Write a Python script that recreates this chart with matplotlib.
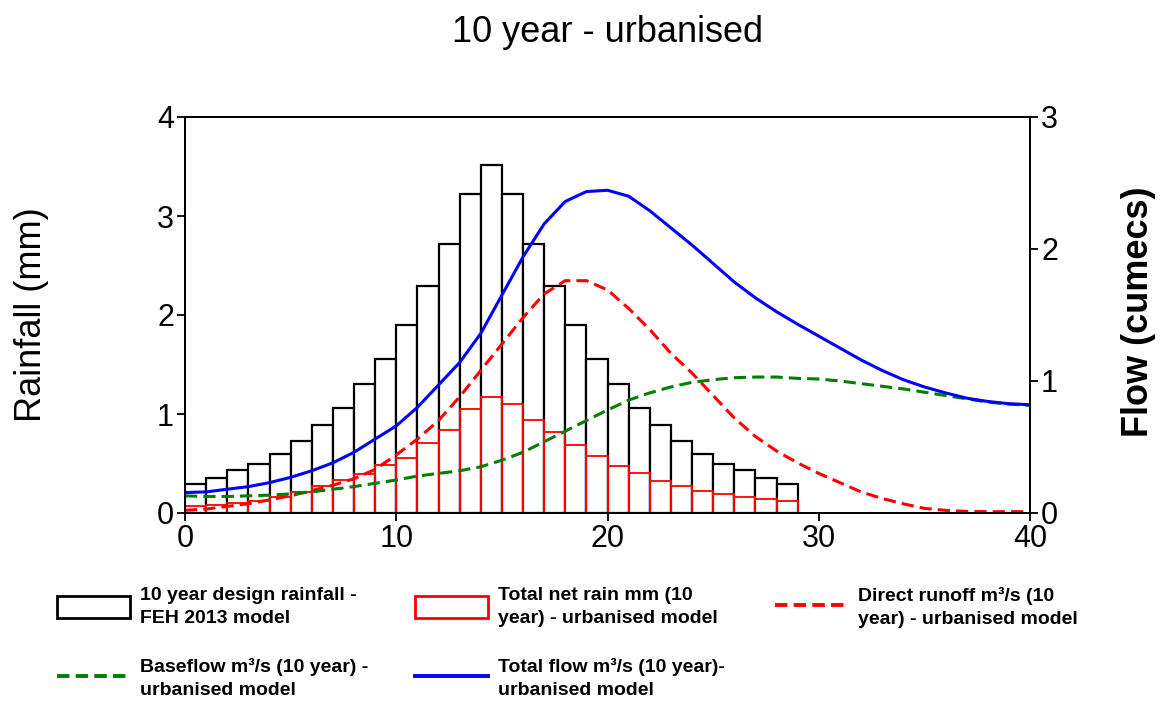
import numpy as np
import matplotlib
matplotlib.use('Agg')
import matplotlib.pyplot as plt
from matplotlib.patches import Patch
from matplotlib.lines import Line2D

plt.rcParams['font.family'] = ['Liberation Sans', 'DejaVu Sans']

# rainfall bars (mm), one per hour starting at 0
rain_hours = np.arange(29)
design_rain = [0.29, 0.35, 0.43, 0.50, 0.60, 0.73, 0.89, 1.06, 1.30, 1.56,
               1.90, 2.29, 2.72, 3.22, 3.52, 3.22, 2.72, 2.29, 1.90, 1.56,
               1.30, 1.06, 0.89, 0.73, 0.60, 0.49, 0.43, 0.35, 0.29]
net_rain = [0.07, 0.08, 0.10, 0.12, 0.16, 0.21, 0.27, 0.33, 0.39, 0.48,
            0.56, 0.71, 0.84, 1.05, 1.17, 1.10, 0.94, 0.82, 0.69, 0.58,
            0.47, 0.40, 0.32, 0.27, 0.22, 0.19, 0.16, 0.14, 0.12]

# flows (cumecs) on the right axis
flow_hours = np.arange(41)
direct_runoff = [0.02, 0.03, 0.05, 0.07, 0.10, 0.13, 0.17, 0.21, 0.26, 0.33,
                 0.44, 0.56, 0.70, 0.88, 1.08, 1.28, 1.48, 1.66, 1.76, 1.76,
                 1.69, 1.55, 1.39, 1.21, 1.06, 0.89, 0.72, 0.58, 0.47, 0.38,
                 0.30, 0.23, 0.16, 0.11, 0.07, 0.035, 0.02, 0.012, 0.01, 0.01, 0.01]
baseflow = [0.13, 0.125, 0.125, 0.13, 0.135, 0.145, 0.16, 0.18, 0.20, 0.225,
            0.25, 0.28, 0.30, 0.32, 0.35, 0.40, 0.46, 0.54, 0.62, 0.70,
            0.78, 0.855, 0.91, 0.955, 0.99, 1.01, 1.025, 1.03, 1.03, 1.02,
            1.015, 1.00, 0.98, 0.96, 0.94, 0.915, 0.89, 0.865, 0.84, 0.825, 0.815]
total_flow = [0.155, 0.16, 0.18, 0.20, 0.23, 0.27, 0.32, 0.38, 0.46, 0.56,
              0.66, 0.80, 0.97, 1.14, 1.36, 1.65, 1.94, 2.19, 2.36, 2.435,
              2.445, 2.40, 2.29, 2.16, 2.03, 1.89, 1.75, 1.63, 1.525, 1.43,
              1.34, 1.25, 1.16, 1.08, 1.01, 0.955, 0.91, 0.87, 0.845, 0.828, 0.82]

labels = ['10 year design rainfall -\nFEH 2013 model',
          'Total net rain mm (10\nyear) - urbanised model',
          'Direct runoff m\u00b3/s (10\nyear) - urbanised model',
          'Baseflow m\u00b3/s (10 year) -\nurbanised model',
          'Total flow m\u00b3/s (10 year)-\nurbanised model']

fig = plt.figure(figsize=(11.66, 7.04), dpi=100)
ax = fig.add_axes([185/1166, 191/704, 845/1166, 396/704])

# rainfall histograms
ax.bar(rain_hours, design_rain, width=1, align='edge', facecolor='white',
       edgecolor='black', linewidth=1.6, zorder=1)
ax.bar(rain_hours, net_rain, width=1, align='edge', facecolor='none',
       edgecolor='red', linewidth=1.3, zorder=2)
ax.set_xlim(0, 40)
ax.set_ylim(0, 4)
ax.set_xticks([0, 10, 20, 30, 40])
ax.set_yticks([0, 1, 2, 3, 4])

# flows on twin axis
ax2 = ax.twinx()
ax2.plot(flow_hours, direct_runoff, color='red', lw=2.2, dashes=(4, 2))
ax2.plot(flow_hours, baseflow, color='green', lw=2.2, dashes=(4, 2))
ax2.plot(flow_hours, total_flow, color='blue', lw=2.2)
ax2.set_ylim(0, 3)
ax2.set_yticks([0, 1, 2, 3])

for a in (ax, ax2):
    a.tick_params(labelsize=22, length=6, width=1.3, pad=2)
    for s in a.spines.values():
        s.set_linewidth(1.3)

fig.text(607/1166, 1 - 32/704, '10 year - urbanised', fontsize=26,
         ha='center', va='center')
fig.text(32/1166, 1 - 315/704, 'Rainfall (mm)', fontsize=26, rotation=90,
         ha='center', va='center')
fig.text(1138/1166, 1 - 312/704, 'Flow (cumecs)', fontsize=26, rotation=90,
         fontweight='bold', ha='center', va='center')

# legend handles, laid out as three columns below the plot
h_rain = Patch(facecolor='white', edgecolor='black', linewidth=2)
h_net = Patch(facecolor='white', edgecolor='red', linewidth=2)
h_direct = Line2D([], [], color='red', lw=2.8, dashes=(3.2, 1.6))
h_base = Line2D([], [], color='green', lw=2.8, dashes=(3.2, 1.6))
h_total = Line2D([], [], color='blue', lw=2.8)

columns = [([h_rain, h_base], [labels[0], labels[3]], 57),
           ([h_net, h_total], [labels[1], labels[4]], 415),
           ([h_direct], [labels[2]], 775)]
for handles, labs, xpix in columns:
    leg = fig.legend(handles, labs, loc='upper left',
                     bbox_to_anchor=(xpix/1166, 1 - 587/704),
                     frameon=False, borderpad=0, borderaxespad=0,
                     prop={'size': 14, 'weight': 'bold'},
                     handlelength=3.75, handleheight=1.4, handletextpad=0.5,
                     labelspacing=1.6)
    for t in leg.get_texts():
        t.set_linespacing(1.45)

fig.savefig('out.png', dpi=100)
